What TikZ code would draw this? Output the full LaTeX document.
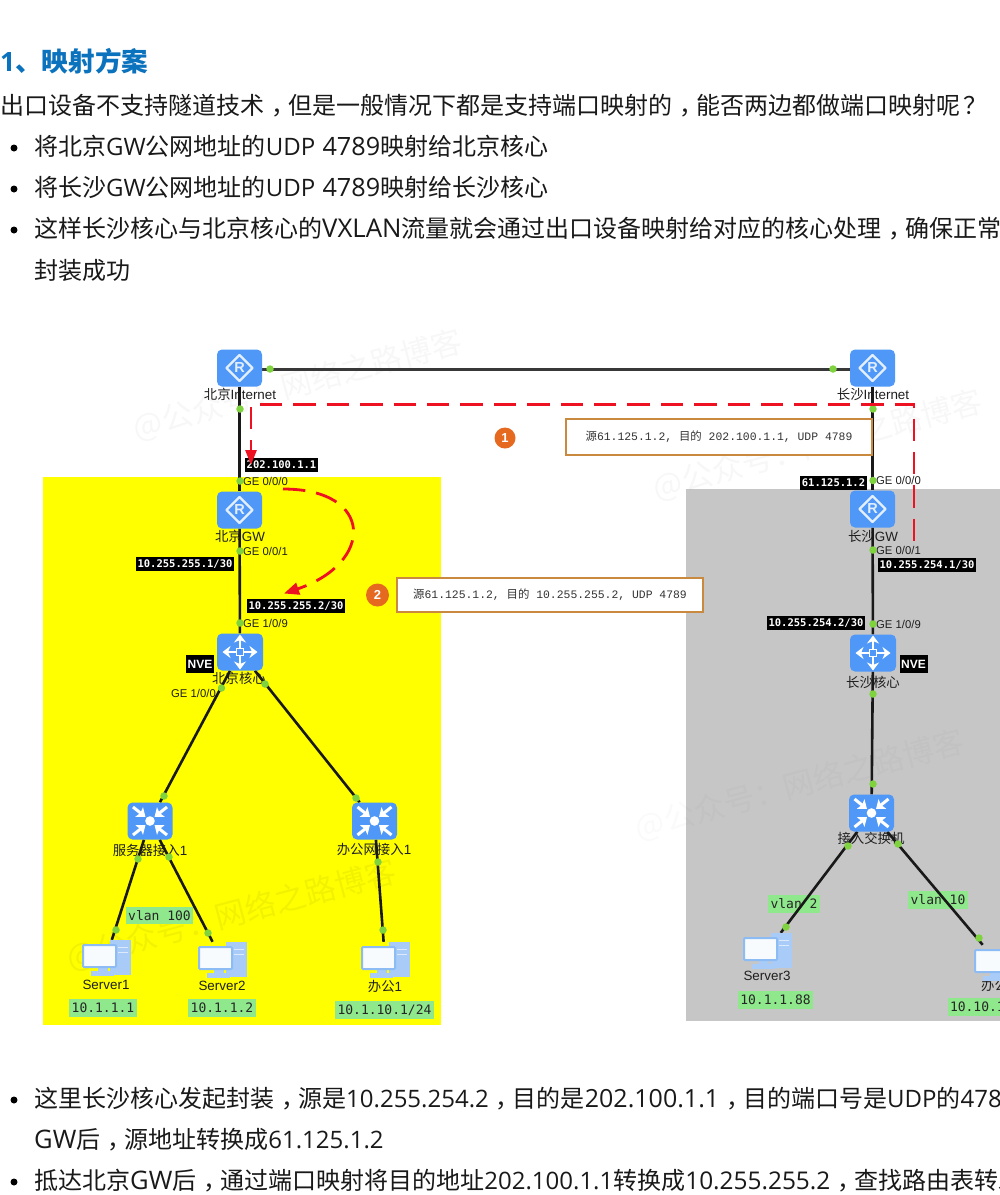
\documentclass[tikz,border=0pt]{standalone}
\usepackage{fontspec}
\setmainfont{Open Sans}
\newfontfamily\cjk{Noto Sans CJK SC}
\newfontfamily\lat{Liberation Sans}
\newfontfamily\dmono{DejaVu Sans Mono}
\newfontfamily\lmono{Liberation Mono}
\usetikzlibrary{arrows.meta,calc}
\newcommand\zh[1]{{\cjk #1}}
\newcommand\fs[1]{\fontsize{#1}{#1}\selectfont}
\newcommand\cm{\makebox[24pt][l]{\hspace{7pt}{\cjk ，}}}
\newcommand\qm{\makebox[24pt][l]{\hspace{3pt}{\cjk ？}}}
\definecolor{iconblue}{HTML}{4F98F8}
\definecolor{portdot}{HTML}{7FD33F}
\definecolor{redflow}{HTML}{EE1122}
\definecolor{zoney}{HTML}{FFFF00}
\definecolor{zoneg}{HTML}{C6C6C6}
\definecolor{tagg}{HTML}{90E88C}
\definecolor{headblue}{HTML}{0B72BD}
\definecolor{callb}{HTML}{C98A3F}
\definecolor{badge}{HTML}{E5691F}
\definecolor{pcedge}{HTML}{8DBCF5}
\definecolor{pctower}{HTML}{A8CBF8}
\pgfdeclarelayer{zones}\pgfdeclarelayer{labs}\pgfdeclarelayer{lines}
\pgfsetlayers{zones,labs,lines,main}
\tikzset{
  dev/.style={fill=iconblue,rounded corners=5pt,minimum width=45pt,minimum height=37pt,inner sep=0pt},
  pcbox/.style={minimum width=48pt,minimum height=36pt,inner sep=0pt},
  link/.style={draw=black!90,line width=2.6pt},
  portpt/.style={circle,fill=portdot,minimum size=7.5pt,inner sep=0pt},
  devlab/.style={text=black!88,inner sep=0pt,font=\lat\fs{13.4}},
  portlab/.style={text=black!88,inner sep=0pt,anchor=west,font=\lat\fs{11.3}},
  blk/.style={fill=black,text=white,inner sep=0pt,minimum height=14pt,font=\dmono\bfseries\fs{10.5}},
  nve/.style={fill=black,text=white,inner sep=0pt,minimum width=28pt,minimum height=18pt,font=\lat\bfseries\fs{12}},
  tag/.style={fill=tagg,text=black!85,inner sep=0pt,minimum height=18pt,font=\dmono\fs{13}},
  callout/.style={draw=callb,line width=1.3pt,fill=white,inner sep=0pt,text=black!80,font=\lmono\fs{11.4}},
  bad/.style={circle,fill=badge,text=white,minimum size=21pt,inner sep=0pt,font=\lat\bfseries\fs{13}},
  body/.style={anchor=base west,inner sep=0pt,text=black!90,font=\fs{24}},
  bul/.style={circle,fill=black,minimum size=7pt,inner sep=0pt},
  flow/.style={draw=redflow,line width=2.8pt,dash pattern=on 22.4pt off 11pt},
  wm/.style={text=black,opacity=.032,font=\cjk\fs{31},rotate=15,inner sep=0pt},
}
\newcommand\routerglyph[1]{\begin{scope}[shift={(#1)}]
  \draw[white!85!iconblue,line width=2.2pt,line join=round] (-13,0)--(0,-13)--(13,0)--(0,13)--cycle;
  \node[text=white!85!iconblue,inner sep=0pt,font=\lat\bfseries\fs{14.5}] (#1R) at (0,0) {R};
\end{scope}}
\newcommand\coreglyph[1]{\begin{scope}[shift={(#1)}]
  \foreach \a/\b in {0/-17.5,0/17.5,-17.5/0,17.5/0}{\draw[white,line width=2.8pt,-{Stealth[length=8pt,width=12pt,inset=2.5pt]}] (0,0)--(\a,\b);}
  \fill[iconblue] (-3.5,-3.5) rectangle (3.5,3.5);
  \draw[white,line width=1.8pt] (-3.5,-3.5) rectangle (3.5,3.5);
\end{scope}}
\newcommand\accessglyph[1]{\begin{scope}[shift={(#1)}]
  \foreach \a/\b in {-1/-1,1/-1,-1/1,1/1}{\draw[white,line width=3pt,-{Stealth[length=8pt,width=12pt,inset=1.5pt]}] (\a*17,\b*14)--(\a*4.5,\b*4);}
  \fill[white] (0,0) circle (4.8);
\end{scope}}
\newcommand\pcglyph[1]{\begin{scope}[shift={(#1)}]
  \fill[pctower] (4,-18) rectangle (25,17);
  \draw[white!60!pctower,line width=1pt] (12,-11)--(22,-11) (12,-6)--(22,-6);
  \fill[pctower] (-15,13) rectangle (8,18);
  \fill[pctower] (-8,9) rectangle (2,14);
  \draw[pcedge,line width=2pt,fill=white!94!pcedge,rounded corners=1pt] (-23,-13) rectangle (10,9);
\end{scope}}
\begin{document}
\begin{tikzpicture}[x=1pt,y=-1pt]
\useasboundingbox (0,0) rectangle (1000,1195);
\clip (0,0) rectangle (1000,1195);
\begin{pgfonlayer}{zones}
  \fill[white] (0,0) rectangle (1000,1195);
  \fill[zoney] (43,477) rectangle (441,1025);
  \fill[zoneg] (686,489) rectangle (1000,1021);
  \node[wm] (w1) at (298,385) {@公众号：网络之路博客};
  \node[wm] (w2) at (818,445) {@公众号：网络之路博客};
  \node[wm,opacity=.02] (w3) at (800,785) {@公众号：网络之路博客};
  \node[wm,opacity=.05] (w4) at (232,915) {@公众号：网络之路博客};
\end{pgfonlayer}

% page text
\node[anchor=base west,inner sep=0pt,text=headblue,font=\bfseries\fs{26.6}] (head) at (0,71) {1\zh{、映射方案}};
\node[body] (p1) at (0,114) {\zh{出口设备不支持隧道技术}\cm\zh{但是一般情况下都是支持端口映射的}\cm\zh{能否两边都做端口映射呢}\qm};
\node[bul] (b1) at (14,148) {};
\node[body] (p2) at (34,155) {\zh{将北京}GW\zh{公网地址的}UDP\hspace{1pt} {\fs{25.2}4789}\zh{映射给北京核心}};
\node[bul] (b2) at (14,189) {};
\node[body] (p3) at (34,196) {\zh{将长沙}GW\zh{公网地址的}UDP\hspace{1pt} {\fs{25.2}4789}\zh{映射给长沙核心}};
\node[bul] (b3) at (14,230) {};
\node[body] (p4) at (34,237.5) {\zh{这样长沙核心与北京核心的}{\fs{25.8}VXLAN}\zh{流量就会通过出口设备映射给对应的核心处理}\cm\zh{确保正常}};
\node[body] (p5) at (34,279) {\zh{封装成功}};
\node[bul] (b4) at (14,1100) {};
\node[body] (p6) at (34,1107) {\zh{这里长沙核心发起封装}\cm\zh{源是}10.255.254.2\cm\zh{目的是}{\fs{25}202.100.1.1}\cm\zh{目的端口号是}UDP\zh{的}4789};
\node[body] (p7) at (34,1148) {{\fs{25.5}GW}\zh{后}\cm\zh{源地址转换成}61.125.1.2};
\node[bul] (b5) at (14,1182) {};
\node[body] (p8) at (34,1189) {\zh{抵达北京}{\fs{25.5}GW}\zh{后}\cm\zh{通过端口映射将目的地址}202.100.1.1\zh{转换成}{\fs{24.4}10.255.255.2}\cm\zh{查找路由表转发}};

% devices
\node[dev] (bjnet) at (239.5,368) {};
\node[dev] (bjgw) at (239.5,510) {};
\node[dev,minimum width=46pt] (bjcore) at (240,652) {};
\node[dev] (csnet) at (872.5,368) {};
\node[dev] (csgw) at (872.5,509) {};
\node[dev,minimum width=46pt] (cscore) at (873,653) {};
\node[dev] (sacc) at (150,821) {};
\node[dev] (oacc) at (374.5,821) {};
\node[dev] (cacc) at (871.5,813) {};
\node[pcbox] (s1) at (106,958) {};
\node[pcbox] (s2) at (222,960) {};
\node[pcbox] (o1) at (385,960) {};
\node[pcbox] (s3) at (767,951) {};
\node[pcbox] (o2) at (998,963) {};
\routerglyph{bjnet}\routerglyph{bjgw}\routerglyph{csnet}\routerglyph{csgw}
\coreglyph{bjcore}\coreglyph{cscore}
\accessglyph{sacc}\accessglyph{oacc}\accessglyph{cacc}
\pcglyph{s1}\pcglyph{s2}\pcglyph{o1}\pcglyph{s3}\pcglyph{o2}

% links
\begin{pgfonlayer}{lines}
  \draw[link,draw=black!78,line width=3pt,transform canvas={yshift=-1pt}] (bjnet)--(csnet);
  \draw[link] (bjnet)--(bjgw);
  \draw[link] (bjgw)--(bjcore);
  \draw[link] (csnet)--(csgw);
  \draw[link] (csgw)--(cscore);
  \draw[link] (cscore)--(cacc);
  \draw[link] (bjcore)--(sacc);
  \draw[link] (bjcore)--(oacc);
  \draw[link] (sacc)--(s1);
  \draw[link] (sacc)--(s2);
  \draw[link] (oacc)--(o1);
  \draw[link] (cacc)--(s3);
  \draw[link] (cacc)--(o2);
\end{pgfonlayer}

% port dots
\foreach \n/\x/\y in {a/270/369,b/833/369,c/240/409,d/240/481,e/240/551,f/240/623,g/221.5/688,h/265/684,i/164/796,j/356/798,
  k/138/859,l/116/930,m/169/857,n/208/933,o/378/862,p/383/930,
  q/873/409,r/873/480.5,s/873/550,t/873/624,u/873/694,v/873/784,w/848/846,x/898/844,y/786/927,z/979/938}
  {\node[portpt] (dot\n) at (\x,\y) {};}

% device labels
\begin{pgfonlayer}{labs}
  \node[devlab] (l1) at (240,394) {\zh{北京}Internet};
  \node[devlab] (l2) at (240,536) {\zh{北京}GW};
  \node[devlab] (l3) at (239,678) {\zh{北京核心}};
  \node[devlab] (l4) at (873,394) {\zh{长沙}Internet};
  \node[devlab] (l5) at (873,536) {\zh{长沙}GW};
  \node[devlab] (l6) at (873,682) {\zh{长沙核心}};
  \node[devlab] (l7) at (150,850) {\zh{服务器接入}1};
  \node[devlab] (l8) at (374,849) {\zh{办公网接入}1};
  \node[devlab] (l9) at (871,838) {\zh{接入交换机}};
  \node[devlab] (l10) at (106,985) {Server1};
  \node[devlab] (l11) at (222,986) {Server2};
  \node[devlab] (l12) at (385,986) {\zh{办公}1};
  \node[devlab] (l13) at (767,976) {Server3};
  \node[devlab,anchor=west] (l14) at (981,985) {\zh{办公}2};
  \node[portlab] (g1) at (243,481) {GE 0/0/0};
  \node[portlab] (g2) at (243,551) {GE 0/0/1};
  \node[portlab] (g3) at (243,623) {GE 1/0/9};
  \node[portlab] (g4) at (171,693) {GE 1/0/0};
  \node[portlab] (g5) at (876,480) {GE 0/0/0};
  \node[portlab] (g6) at (876,550) {GE 0/0/1};
  \node[portlab] (g7) at (876,624) {GE 1/0/9};
  \node[tag,minimum width=67pt,minimum height=17pt] (t1) at (159.5,915.5) {vlan 100};
  \node[tag,minimum width=52pt] (t2) at (794,904) {vlan 2};
  \node[tag,minimum width=60pt] (t3) at (938,899.5) {vlan 10};
\end{pgfonlayer}

% address tags
\node[blk,minimum width=73pt] (k1) at (281.5,465) {202.100.1.1};
\node[blk,minimum width=98pt] (k2) at (185,564) {10.255.255.1/30};
\node[blk,minimum width=98pt] (k3) at (296,606) {10.255.255.2/30};
\node[nve] (k4) at (200,664) {NVE};
\node[blk,minimum width=67pt] (k5) at (833.5,483) {61.125.1.2};
\node[blk,minimum width=98pt] (k6) at (927,565) {10.255.254.1/30};
\node[blk,minimum width=98pt] (k7) at (816,623) {10.255.254.2/30};
\node[nve] (k8) at (913.5,664) {NVE};
\node[tag,minimum width=68pt] (t4) at (103,1008) {10.1.1.1};
\node[tag,minimum width=68pt] (t5) at (222,1008) {10.1.1.2};
\node[tag,minimum width=99pt] (t6) at (384.5,1010) {10.1.10.1/24};
\node[tag,minimum width=75pt] (t7) at (775.5,1000) {10.1.1.88};
\node[tag,minimum width=100pt,text width=96pt,align=left] (t8) at (998,1007) {10.10.1.1/24};

% callouts
\node[callout,minimum width=306pt,minimum height=36pt] (c1) at (719,437) {\zh{源}61.125.1.2, \zh{目的} 202.100.1.1, UDP 4789};
\node[callout,minimum width=306pt,minimum height=34pt] (c2) at (550,595) {\zh{源}61.125.1.2, \zh{目的} 10.255.255.2, UDP 4789};
\node[bad] (n1) at (505,438) {1};
\node[bad,minimum size=23pt] (n2) at (377.5,595) {2};

% red flows
\coordinate (fa) at (914,541);
\coordinate (fb) at (914,404.5);
\coordinate (fc) at (260,404.5);
\coordinate (fg) at (251,407);
\coordinate (fd) at (251,465);
\coordinate (fe) at (283,489);
\coordinate (ff) at (284,593.5);
\draw[flow] (fc)--(fb)--(fa);
\draw[flow,-{Stealth[length=15pt,width=11pt,inset=0pt]}] (fg)--(fd);
\draw[flow,-{Stealth[length=15pt,width=12pt,inset=0pt]}] (fe) .. controls (375,489) and (374,563) .. (ff);
\end{tikzpicture}
\end{document}
